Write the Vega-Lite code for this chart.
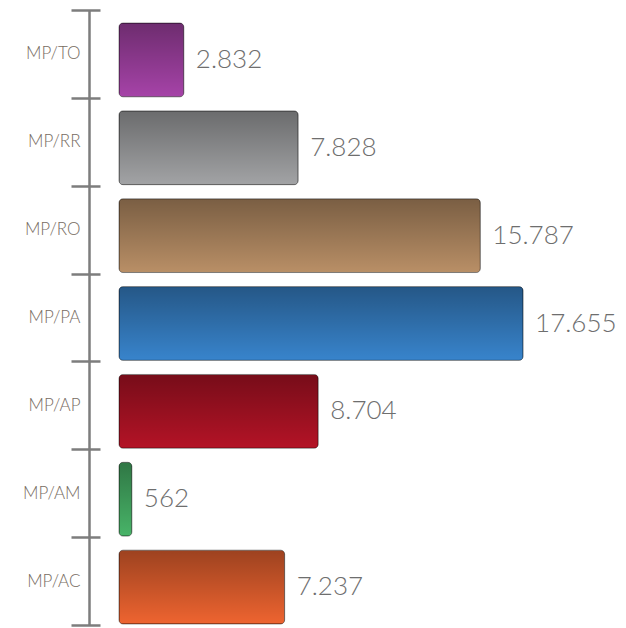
{
  "$schema": "https://vega.github.io/schema/vega-lite/v6.json",
  "width": 412,
  "height": 615,
  "autosize": {"type": "none"},
  "padding": {"left": 119, "top": 10, "right": 95, "bottom": 3},
  "background": "white",
  "config": {"view": {"stroke": null}},
  "data": {
    "values": [
      {"cat": "MP/TO", "value": 2832, "label": "2.832"},
      {"cat": "MP/RR", "value": 7828, "label": "7.828"},
      {"cat": "MP/RO", "value": 15787, "label": "15.787"},
      {"cat": "MP/PA", "value": 17655, "label": "17.655"},
      {"cat": "MP/AP", "value": 8704, "label": "8.704"},
      {"cat": "MP/AM", "value": 562, "label": "562"},
      {"cat": "MP/AC", "value": 7237, "label": "7.237"}
    ]
  },
  "resolve": {"axis": {"y": "independent"}},
  "layer": [
    {
      "mark": {"type": "bar", "height": {"band": 0.84}, "cornerRadius": 4, "yOffset": 6},
      "encoding": {
        "y": {
          "field": "cat", "type": "nominal",
          "sort": ["MP/TO", "MP/RR", "MP/RO", "MP/PA", "MP/AP", "MP/AM", "MP/AC"],
          "scale": {"paddingInner": 0, "paddingOuter": 0},
          "axis": {
            "orient": "left", "offset": 19, "title": null, "domain": false,
            "ticks": true, "tickBand": "extent", "tickSize": 29, "tickWidth": 2.5, "tickColor": "#7d7d7d",
            "labelPadding": -9, "labelFont": "Lato", "labelFontSize": 17, "labelColor": "#776c62",
            "labelFontWeight": 300, "grid": false
          }
        },
        "x": {"field": "value", "type": "quantitative", "scale": {"domain": [0, 18000]}, "axis": null},
        "color": {
          "field": "cat", "type": "nominal", "legend": null,
          "scale": {
            "domain": ["MP/TO", "MP/RR", "MP/RO", "MP/PA", "MP/AP", "MP/AM", "MP/AC"],
            "range": ["#a643a8", "#a2a3a5", "#b98f66", "#3884cc", "#b41326", "#48b468", "#ee6430"]
          }
        }
      }
    },
    {
      "mark": {
        "type": "bar", "height": {"band": 0.84}, "cornerRadius": 4, "yOffset": 6,
        "stroke": "rgba(0,0,0,0.4)", "strokeWidth": 1,
        "color": {
          "gradient": "linear", "x1": 0, "y1": 0, "x2": 0, "y2": 1,
          "stops": [
            {"offset": 0, "color": "rgba(0,0,0,0.34)"},
            {"offset": 1, "color": "rgba(0,0,0,0)"}
          ]
        }
      },
      "encoding": {
        "y": {"field": "cat", "type": "nominal", "sort": ["MP/TO", "MP/RR", "MP/RO", "MP/PA", "MP/AP", "MP/AM", "MP/AC"], "axis": null},
        "x": {"field": "value", "type": "quantitative"}
      }
    },
    {
      "mark": {"type": "text", "align": "left", "baseline": "middle", "dx": 12, "yOffset": 6, "font": "Lato", "fontSize": 26, "fontWeight": 300, "color": "#6e6e6e"},
      "encoding": {
        "y": {
          "field": "cat", "type": "nominal",
          "sort": ["MP/TO", "MP/RR", "MP/RO", "MP/PA", "MP/AP", "MP/AM", "MP/AC"],
          "axis": {
            "orient": "left", "offset": 30, "title": null, "domain": true, "domainColor": "#7d7d7d", "domainWidth": 2.5,
            "ticks": false, "labels": false, "grid": false
          }
        },
        "x": {"field": "value", "type": "quantitative"},
        "text": {"field": "label"}
      }
    }
  ]
}
